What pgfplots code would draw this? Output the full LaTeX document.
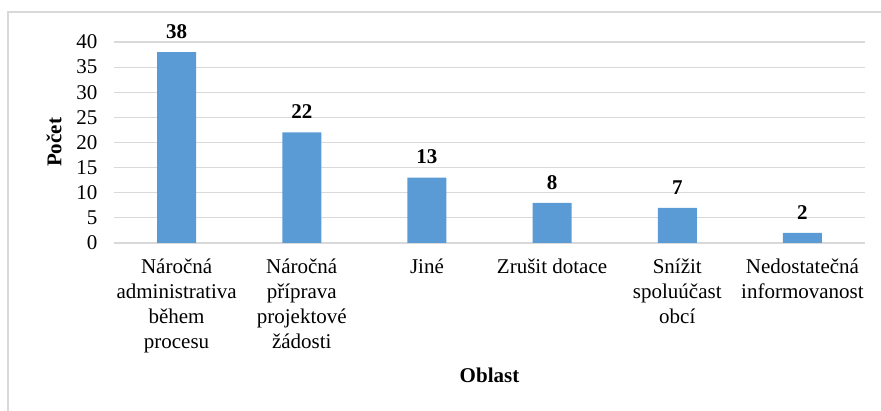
\documentclass[border=0pt]{standalone}
\usepackage{fontspec}
\setmainfont{Liberation Serif}
\usepackage{pgfplots}
\pgfplotsset{compat=1.18}
\definecolor{barblue}{HTML}{5B9BD5}
\definecolor{gridgray}{HTML}{D9D9D9}
\begin{document}
\begin{tikzpicture}[x=1pt,y=1pt]
\path[use as bounding box] (0,0) rectangle (881,411);
\draw[gridgray, line width=1.2pt] (8,0) -- (8,399) -- (881,399);
\begin{axis}[
  at={(114pt,168pt)}, anchor=south west,
  scale only axis, width=751pt, height=201pt,
  ybar, bar width=39pt,
  ymin=0, ymax=40, ytick={0,5,...,40},
  xmin=-0.5, xmax=5.5, xtick=data,
  xticklabels={{Náročná\\administrativa\\během\\procesu},{Náročná\\příprava\\projektové\\žádosti},{Jiné},{Zrušit dotace},{Snížit\\spoluúčast\\obcí},{Nedostatečná\\informovanost}},
  separate axis lines,
  axis x line*=bottom, axis y line*=left,
  x axis line style={gridgray, line width=1.2pt, -},
  y axis line style={draw=none},
  major tick length=0pt,
  ymajorgrids, grid style={gridgray, line width=1.2pt},
  /pgf/number format/assume math mode=true,
  tick label style={font=\fontsize{21}{25}\selectfont},
  x tick label style={align=center, anchor=north, yshift=-12pt},
  y tick label style={xshift=-13pt},
  every axis y label/.style={at={(axis description cs:-0.0799,0.5)}, rotate=90, anchor=center},
  every axis x label/.style={at={(axis description cs:0.5,-0.6567)}, anchor=center},
  ylabel={\bfseries Počet},
  xlabel={\bfseries Oblast},
  label style={font=\bfseries\fontsize{21}{25}\selectfont},
  nodes near coords,
  nodes near coords style={font=\bfseries\fontsize{21}{25}\selectfont, text=black, yshift=10pt},
]
\addplot[fill=barblue, draw=none] coordinates {(0,38) (1,22) (2,13) (3,8) (4,7) (5,2)};
\end{axis}
\end{tikzpicture}
\end{document}
